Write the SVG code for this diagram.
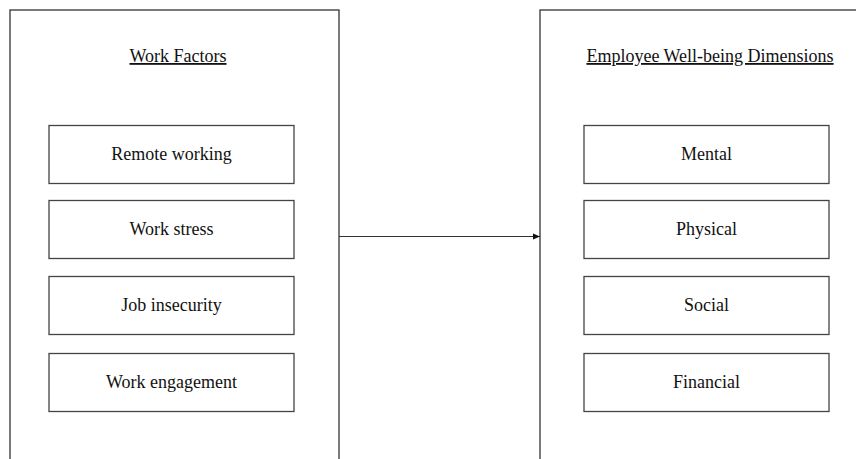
<svg xmlns="http://www.w3.org/2000/svg" width="856" height="459" viewBox="0 0 856 459">
<style>
.outer{fill:#fff;stroke:#333;stroke-width:1.3}
.box{fill:#fff;stroke:#444;stroke-width:1.3}
.t{font-family:"Liberation Serif","Times New Roman",serif;font-size:18px;fill:#111;text-anchor:middle}
.u{text-decoration:underline}
.conn{stroke:#333;stroke-width:1.2;fill:none}
</style>
<defs>
<marker id="ah" markerWidth="8" markerHeight="8" refX="7" refY="4" orient="auto" markerUnits="userSpaceOnUse">
<path d="M0,1 L7,4 L0,7 Z" fill="#111"/>
</marker>
</defs>
<rect width="856" height="459" fill="#fff"/>
<g id="work-factors">
<rect class="outer" x="10" y="10" width="329" height="460"/>
<text class="t u" x="178" y="62">Work Factors</text>
</g>
<g id="wellbeing">
<rect class="outer" x="540" y="10" width="330" height="460"/>
<text class="t u" x="710" y="62">Employee Well-being Dimensions</text>
</g>
<g id="remote"><rect class="box" x="49" y="125.5" width="245" height="58"/><text class="t" x="171.5" y="160">Remote working</text></g>
<g id="stress"><rect class="box" x="49" y="200.5" width="245" height="58"/><text class="t" x="171.5" y="235">Work stress</text></g>
<g id="insecurity"><rect class="box" x="49" y="276.5" width="245" height="58"/><text class="t" x="171.5" y="311">Job insecurity</text></g>
<g id="engagement"><rect class="box" x="49" y="353.5" width="245" height="58"/><text class="t" x="171.5" y="388">Work engagement</text></g>
<g id="mental"><rect class="box" x="584" y="125.5" width="245" height="58"/><text class="t" x="706.5" y="160">Mental</text></g>
<g id="physical"><rect class="box" x="584" y="200.5" width="245" height="58"/><text class="t" x="706.5" y="235">Physical</text></g>
<g id="social"><rect class="box" x="584" y="276.5" width="245" height="58"/><text class="t" x="706.5" y="311">Social</text></g>
<g id="financial"><rect class="box" x="584" y="353.5" width="245" height="58"/><text class="t" x="706.5" y="388">Financial</text></g>
<g id="connectors">
<line class="conn" x1="339" y1="236.5" x2="540" y2="236.5" marker-end="url(#ah)"/>
</g>
</svg>
